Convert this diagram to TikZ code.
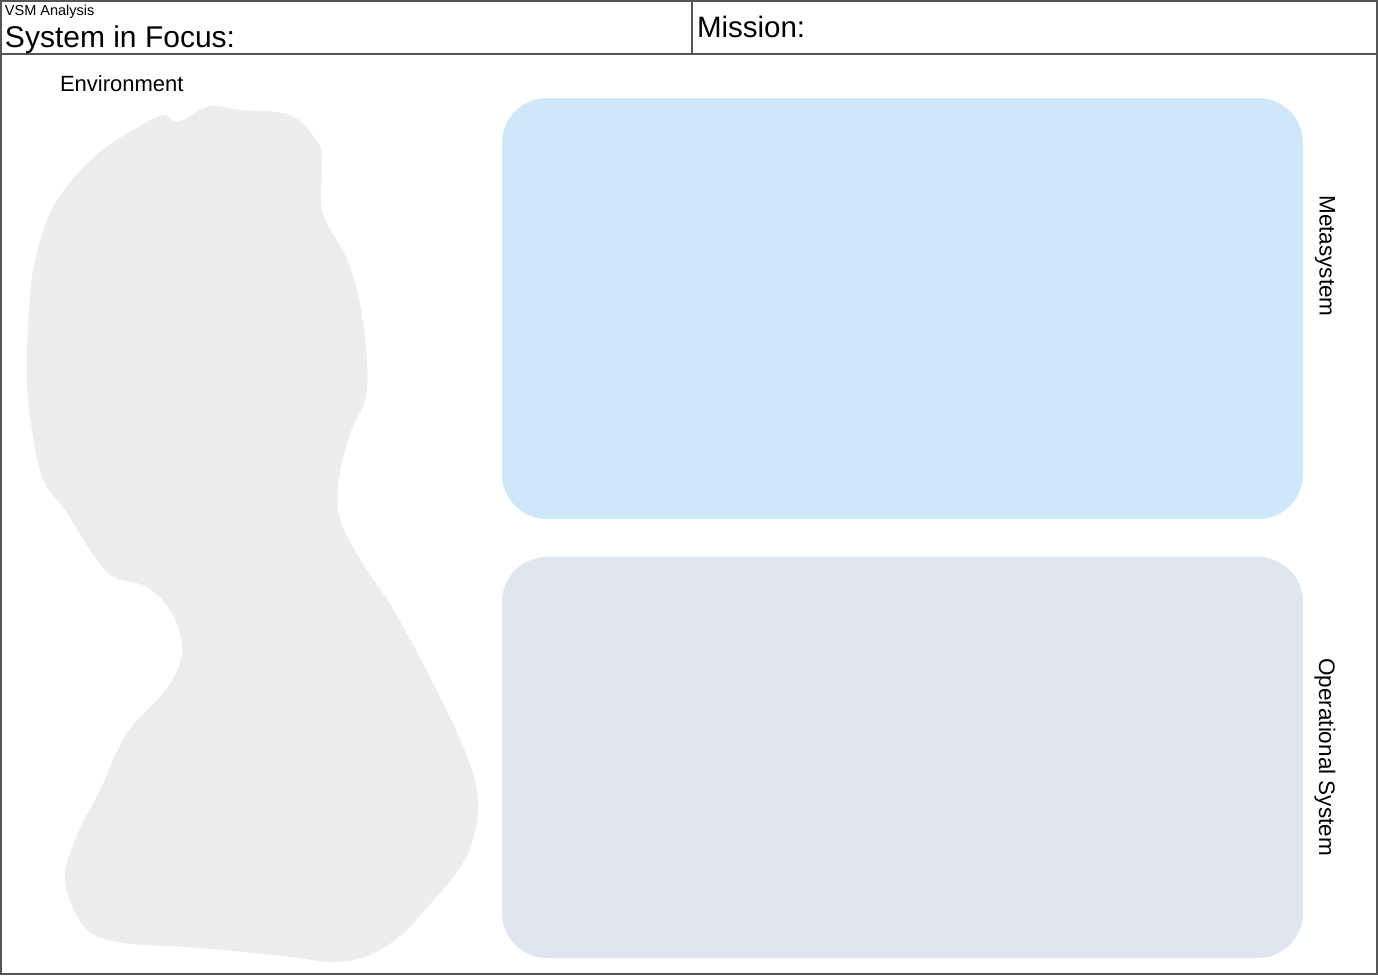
\documentclass[tikz,border=0pt]{standalone}
\usepackage{fontspec}
\setmainfont{Liberation Sans}
\definecolor{frameC}{HTML}{555555}
\definecolor{metaC}{HTML}{CFE8F9}
\definecolor{opC}{HTML}{E0E6EE}
\definecolor{envC}{HTML}{EDEDED}
\tikzset{
  lbl/.style={inner sep=0pt, outer sep=0pt, anchor=base west, text=black},
  sidelbl/.style={inner sep=0pt, rotate=-90, font=\fontsize{22.5}{22.5}\selectfont},
  region/.style={rounded corners=45pt, draw=none}
}
\begin{document}
\begin{tikzpicture}[x=1pt,y=-1pt]
\useasboundingbox (0,0) rectangle (1378,975);
% frame
\draw[frameC, line width=1.2pt] (1,1) rectangle (1377,974);
\draw[frameC, line width=1.2pt] (1,54) -- (1377,54);
\draw[frameC, line width=1.2pt] (692,1) -- (692,54);
% header texts
\node[lbl, font=\fontsize{14.5}{14.5}\selectfont] (vsm) at (5,15) {VSM Analysis};
\node[lbl, font=\fontsize{30}{30}\selectfont] (sif) at (5,47) {System in Focus:};
\node[lbl, font=\fontsize{29.5}{29.5}\selectfont] (mis) at (697,37) {Mission:};
\node[lbl, font=\fontsize{22}{22}\selectfont] (env) at (60,91) {Environment};
% environment blob
\fill[envC] plot[smooth cycle, tension=0.6] coordinates {
 (27,383) (28,327) (33,271) (47,220) (67,186) (100,152) (133,130) (163,115)
 (173,121) (187,118) (210,106) (240,110) (290,115) (317,141) (322,163)
 (321,197) (325,220) (347,259) (360,304) (367,361) (365,400) (350,434)
 (338,485) (342,525) (367,570) (393,609) (433,683) (467,756) (478,800)
 (474,836) (461,866) (432,902) (400,936) (367,956) (333,962) (283,956) (200,948)
 (117,942) (83,925) (65,880) (77,835) (100,790) (127,733) (167,688)
 (182,652) (173,615) (147,587) (107,572) (67,513) (43,479) (32,429)};
% regions
\fill[metaC, region] (502,98) rectangle (1303,519);
\fill[opC, region] (502,557) rectangle (1303,958);
\node[sidelbl] (metalbl) at (1325,256) {Metasystem};
\node[sidelbl] (oplbl) at (1325,757) {Operational System};
\end{tikzpicture}
\end{document}
